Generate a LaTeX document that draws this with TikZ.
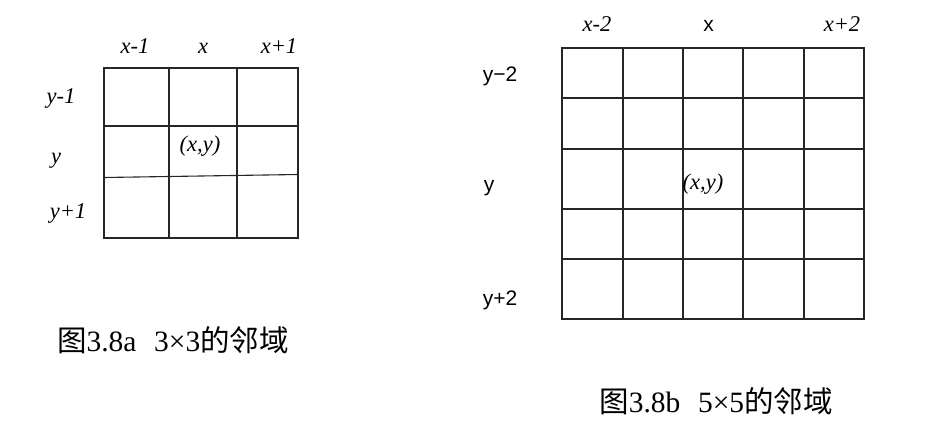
\documentclass[tikz,border=0pt]{standalone}
\usepackage{fontspec}
\setmainfont{Liberation Serif}
\newfontfamily\cjk{Noto Sans CJK SC}
\newfontfamily\sansf{Liberation Sans}
\begin{document}
\begin{tikzpicture}[x=1pt,y=-1pt,
  gridline/.style={line width=1.1pt,draw=black!85},
  itlab/.style={font=\fontsize{22.5}{24}\selectfont\itshape,inner sep=0pt,anchor=base},
  sflab/.style={font=\fontsize{21}{24}\sansf,inner sep=0pt,anchor=base},
  captext/.style={font=\fontsize{29.5}{32}\selectfont,inner sep=0pt,anchor=base}]
\useasboundingbox[fill=white] (0,0) rectangle (931,433);
% left 3x3 grid
\draw[gridline] (104,68) rectangle (298,238);
\draw[gridline] (169,68) -- (169,238);
\draw[gridline] (237,68) -- (237,238);
\draw[gridline] (104,126) -- (298,126);
\draw[gridline] (104,177.5) -- (298,174.5);
\node[itlab] (lxm) at (135,54) {x-1};
\node[itlab] (lx) at (203,54) {x};
\node[itlab] (lxp) at (279,54) {x+1};
\node[itlab] (lym) at (61,103) {y-1};
\node[itlab] (ly) at (56,163) {y};
\node[itlab] (lyp) at (68,218) {y+1};
\node[itlab] (lc) at (200,151.5) {(x,y)};
\node[captext] (capa) at (173,351) {{\cjk 图}3.8a\hspace{0.6em}3×3{\cjk 的邻域}};
% right 5x5 grid
\draw[gridline] (562,48) rectangle (864,319);
\foreach \xx in {623,683,743,804} \draw[gridline] (\xx,48) -- (\xx,319);
\foreach \yy in {98,149,209,259} \draw[gridline] (562,\yy) -- (864,\yy);
\node[itlab] (rxm) at (597,31.5) {x-2};
\node[sflab] (rx) at (708.5,31.5) {x};
\node[itlab] (rxp) at (842,31.5) {x+2};
\node[sflab] (rym) at (500,81.5) {y−2};
\node[sflab] (ry) at (489,191.5) {y};
\node[sflab] (ryp) at (500,305) {y+2};
\node[itlab] (rc) at (703,189.5) {(x,y)};
\node[captext] (capb) at (716,412) {{\cjk 图}3.8b\hspace{0.6em}5×5{\cjk 的邻域}};
\end{tikzpicture}
\end{document}
